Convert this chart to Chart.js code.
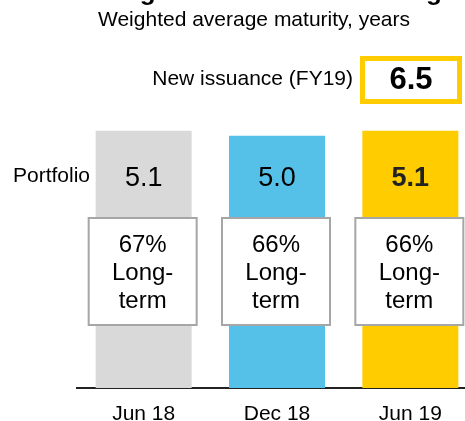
<!DOCTYPE html>
<html>
<head>
<meta charset="utf-8">
<script src="https://cdn.jsdelivr.net/npm/chart.js@4.4.1/dist/chart.umd.min.js"></script>
<style>
    html, body { margin: 0; padding: 0; overflow: hidden; background: #fff; }
    #wrap { position: relative; width: 477px; height: 421px; }
</style>
</head>
<body>
<div id="wrap"><canvas id="maturityChart" width="477" height="421"></canvas></div>
<script>
// Chart data
const categories = ['Jun 18', 'Dec 18', 'Jun 19'];
const portfolioMaturity = [5.1, 5.0, 5.1];
const longTermShare = [67, 66, 66];
const newIssuanceMaturity = 6.5;
const barColors = ['#d9d9d9', '#56c1e8', '#ffcc00'];

const FONT = '"Liberation Sans", Arial, sans-serif';

// Draws the title, labels and the white "Long-term" boxes on top of the bars
const annotations = {
    id: 'annotations',
    afterDatasetsDraw(chart) {
        const ctx = chart.ctx;
        const area = chart.chartArea;
        const bars = chart.getDatasetMeta(0).data;
        ctx.save();
        ctx.fillStyle = '#000';
        ctx.textAlign = 'center';

        // title (cut off at the top edge in the original)
        ctx.font = 'bold 26px ' + FONT;
        ctx.textBaseline = 'alphabetic';
        ctx.fillText('Long-term issuance funding', 267, 0);

        ctx.textBaseline = 'middle';
        ctx.font = '21px ' + FONT;
        ctx.fillText('Weighted average maturity, years', 254, 20);

        // new issuance box
        ctx.textAlign = 'right';
        ctx.font = '21px ' + FONT;
        ctx.fillText('New issuance (FY19)', 353, 79);
        ctx.strokeStyle = '#ffcc00';
        ctx.lineWidth = 5;
        ctx.strokeRect(362.5, 58.5, 97, 43);
        ctx.textAlign = 'center';
        ctx.font = 'bold 31px ' + FONT;
        ctx.fillText(newIssuanceMaturity.toFixed(1), 411, 80);

        // portfolio row
        ctx.textAlign = 'right';
        ctx.font = '21px ' + FONT;
        ctx.fillText('Portfolio', 90, 176);

        ctx.textAlign = 'center';
        bars.forEach((bar, i) => {
            const last = i === bars.length - 1;
            ctx.font = (last ? 'bold ' : '') + '27px ' + FONT;
            ctx.fillStyle = last ? '#222' : '#000';
            ctx.fillText(portfolioMaturity[i].toFixed(1), bar.x, area.bottom - 209);

            // white box with long-term share
            const bx = bar.x - 55;
            const by = area.bottom - 170;
            ctx.fillStyle = '#fff';
            ctx.fillRect(bx, by, 108, 107);
            ctx.strokeStyle = '#a6a6a6';
            ctx.lineWidth = 2;
            ctx.strokeRect(bx, by, 108, 107);

            ctx.fillStyle = '#000';
            ctx.font = '24px ' + FONT;
            const cx = bx + 54;
            ctx.fillText(longTermShare[i] + '%', cx, area.bottom - 143);
            ctx.fillText('Long-', cx, area.bottom - 115);
            ctx.fillText('term', cx, area.bottom - 87);
        });
        ctx.restore();
    }
};

const ctx = document.getElementById('maturityChart').getContext('2d');
const maturityChart = new Chart(ctx, {
    type: 'bar',
    data: {
        labels: categories,
        datasets: [{
            data: portfolioMaturity,
            backgroundColor: barColors,
            borderWidth: 0,
            barPercentage: 0.72,
            categoryPercentage: 1
        }]
    },
    options: {
        responsive: false,
        animation: false,
        layout: { padding: { top: 35, left: 77, right: 0, bottom: 0 } },
        plugins: {
            legend: { display: false },
            tooltip: { enabled: false }
        },
        scales: {
            x: {
                grid: { display: false },
                border: { display: true, color: '#222', width: 2 },
                ticks: {
                    color: '#000',
                    padding: 6,
                    font: { family: FONT, size: 21 }
                },
                afterFit(axis) { axis.height = 33; }
            },
            y: {
                display: false,
                min: 0,
                max: 7
            }
        }
    },
    plugins: [annotations]
});
</script>
</body>
</html>
